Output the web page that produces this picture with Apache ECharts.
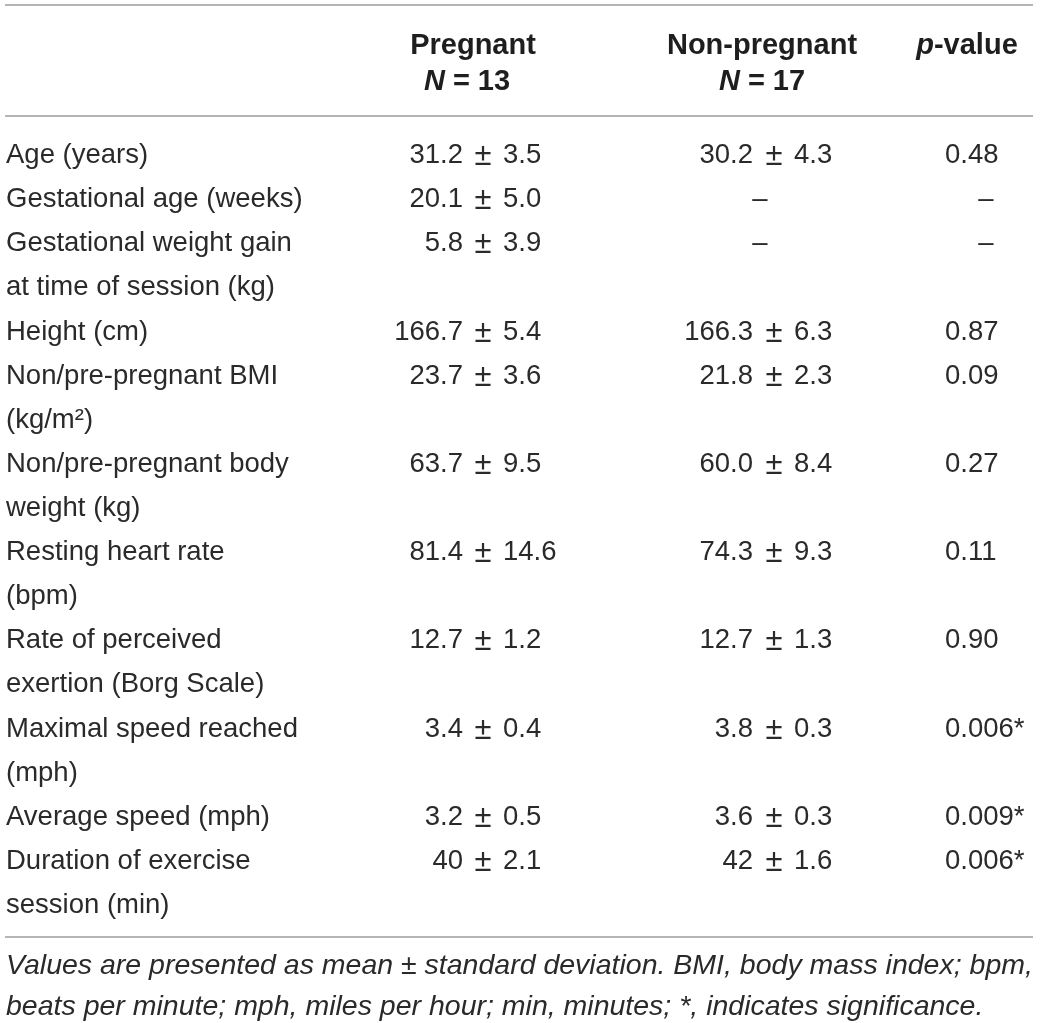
<!DOCTYPE html>
<html>
<head>
<meta charset="utf-8">
<script src="https://cdn.jsdelivr.net/npm/echarts@6/dist/echarts.min.js"></script>
<style>
  html, body { margin: 0; padding: 0; background: #ffffff; }
  #chart { width: 1040px; height: 1023px; }
</style>
</head>
<body>
<div id="chart"></div>
<script>
// ---- table content ----
const headers = ["Pregnant", "Non-pregnant", "p-value"];
const groupN = ["13", "17"];
const labels = [
  "Age (years)",
  "Gestational age (weeks)",
  "Gestational weight gain\nat time of session (kg)",
  "Height (cm)",
  "Non/pre-pregnant BMI\n(kg/m²)",
  "Non/pre-pregnant body\nweight (kg)",
  "Resting heart rate\n(bpm)",
  "Rate of perceived\nexertion (Borg Scale)",
  "Maximal speed reached\n(mph)",
  "Average speed (mph)",
  "Duration of exercise\nsession (min)"
];
const pregMean = ["31.2", "20.1", "5.8", "166.7", "23.7", "63.7", "81.4", "12.7", "3.4", "3.2", "40"];
const pregSD   = ["3.5", "5.0", "3.9", "5.4", "3.6", "9.5", "14.6", "1.2", "0.4", "0.5", "2.1"];
const nonMean  = ["30.2", null, null, "166.3", "21.8", "60.0", "74.3", "12.7", "3.8", "3.6", "42"];
const nonSD    = ["4.3", null, null, "6.3", "2.3", "8.4", "9.3", "1.3", "0.3", "0.3", "1.6"];
const pValues  = ["0.48", null, null, "0.87", "0.09", "0.27", "0.11", "0.90", "0.006*", "0.009*", "0.006*"];
const footnote = [
  "Values are presented as mean ± standard deviation. BMI, body mass index; bpm,",
  "beats per minute; mph, miles per hour; min, minutes; *, indicates significance."
];

// ---- layout helpers ----
const FONT = "'Liberation Sans', Arial, Helvetica, sans-serif";
const TXT = "#2a2a2a";
const RULE = "#9c9c9c";
const FS = 27.5;

const rowLines = labels.map(l => l.split("\n"));
const lineStart = [];
let acc = 0;
rowLines.forEach(lines => { lineStart.push(acc); acc += lines.length; });
const totalLines = acc; // 18

const seriesData = labels.map((_, i) => [0, lineStart[i]]);

function t(x, y, text, align, size) {
  return {
    type: "text", x: x, y: y,
    style: {
      text: text, align: align, verticalAlign: "middle",
      fontSize: size || FS, fontFamily: FONT, fill: TXT
    }
  };
}

function renderItem(params, api) {
  const i = params.dataIndex;
  const start = api.value(1);
  const X = v => api.coord([v, start])[0];
  const Y = k => api.coord([0, start + k])[1];
  const children = [];
  rowLines[i].forEach((ln, k) => children.push(t(X(6), Y(k), ln, "left")));
  const y0 = Y(0);
  // Pregnant column (aligned on ±)
  children.push(t(X(463), y0, pregMean[i], "right"));
  children.push(t(X(483), y0 + 1, "±", "center", 31));
  children.push(t(X(503), y0, pregSD[i], "left"));
  // Non-pregnant column
  if (nonMean[i] == null) {
    children.push(t(X(760), y0, "–", "center"));
  } else {
    children.push(t(X(753), y0, nonMean[i], "right"));
    children.push(t(X(774), y0 + 1, "±", "center", 31));
    children.push(t(X(794), y0, nonSD[i], "left"));
  }
  // p-value column
  if (pValues[i] == null) {
    children.push(t(X(986), y0, "–", "center"));
  } else {
    children.push(t(X(945), y0, pValues[i], "left"));
  }
  return { type: "group", children: children };
}

// line 0 and line 17 text centres
const firstY = 155.5, lastY = 905.5;
const pitch = (lastY - firstY) / (totalLines - 1);
const gridTop = firstY - 0.5 * pitch;
const gridBottom = 1023 - (lastY + 0.5 * pitch);

function rule(y) {
  return { type: "line", shape: { x1: 5, y1: y, x2: 1033, y2: y },
           style: { stroke: RULE, lineWidth: 1.6 }, silent: true };
}
const HS = 29;
function headText(x, y, text, rich) {
  return {
    type: "text", x: x, y: y,
    style: {
      text: text, align: "center", verticalAlign: "middle",
      fontSize: HS, fontWeight: "bold", fontFamily: FONT, fill: "#1e1e1e",
      rich: rich || {}
    }
  };
}
const italicBold = { i: { fontStyle: "italic", fontWeight: "bold", fontSize: HS, fontFamily: FONT, fill: "#1e1e1e" },
                     n: { fontWeight: "bold", fontSize: HS, fontFamily: FONT, fill: "#1e1e1e" } };

const chart = echarts.init(document.getElementById("chart"), null, { renderer: "canvas" });
chart.setOption({
  animation: false,
  backgroundColor: "#ffffff",
  grid: { left: 0, right: 0, top: gridTop, bottom: gridBottom },
  xAxis: { type: "value", min: 0, max: 1040, show: false },
  yAxis: { type: "value", min: -0.5, max: totalLines - 0.5, inverse: true, show: false },
  series: [{
    type: "custom",
    renderItem: renderItem,
    data: seriesData,
    clip: false,
    silent: true
  }],
  graphic: [
    rule(5),
    rule(116),
    rule(937),
    headText(473, 46, headers[0]),
    headText(467, 81.5, "{i|N}{n| = " + groupN[0] + "}", italicBold),
    headText(762, 46, headers[1]),
    headText(762, 81.5, "{i|N}{n| = " + groupN[1] + "}", italicBold),
    headText(967, 46, "{i|" + headers[2].slice(0, 1) + "}{n|" + headers[2].slice(1) + "}", italicBold),
    {
      type: "text", x: 6, y: 966,
      style: { text: footnote[0], align: "left", verticalAlign: "middle",
               fontSize: 28.5, fontStyle: "italic", fontFamily: FONT, fill: TXT }
    },
    {
      type: "text", x: 6, y: 1007,
      style: { text: footnote[1], align: "left", verticalAlign: "middle",
               fontSize: 28.5, fontStyle: "italic", fontFamily: FONT, fill: TXT }
    }
  ]
});
</script>
</body>
</html>
